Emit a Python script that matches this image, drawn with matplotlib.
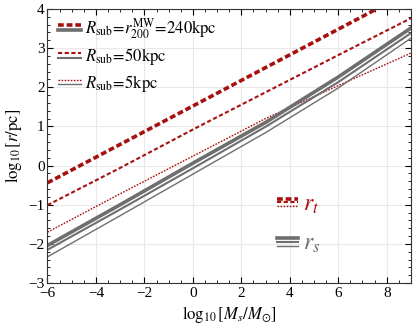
import matplotlib
matplotlib.use("Agg")
import matplotlib.pyplot as plt
from matplotlib.legend_handler import HandlerBase
from matplotlib.lines import Line2D
from matplotlib.ticker import MultipleLocator

plt.rcParams['font.family'] = ['Liberation Serif', 'DejaVu Serif']
plt.rcParams['mathtext.fontset'] = 'stix'

# ---- data ----
x_pts = [-6, -3, 0, 3, 6, 9]
rt_240 = [-0.44, 0.54, 1.52, 2.50, 3.48, 4.46]
rt_50 = [-1.01, -0.06, 0.92, 1.87, 2.82, 3.76]
rt_5 = [-1.70, -0.72, 0.24, 1.20, 2.04, 2.87]
rs_240 = [-2.04, -1.00, 0.06, 1.10, 2.26, 3.51]
rs_50 = [-2.15, -1.12, -0.07, 0.99, 2.13, 3.38]
rs_5 = [-2.33, -1.28, -0.22, 0.84, 1.98, 3.25]
labels = [r'$R_{\rm sub}\!=\!r_{200}^{\rm MW}\!=\!240{\rm kpc}$',
          r'$R_{\rm sub}\!=\!50{\rm kpc}$',
          r'$R_{\rm sub}\!=\!5{\rm kpc}$']

RED = '#A81010'
GRAY = '#6E6E6E'
styles = [dict(lw=2.6, ls=(0, (1.6, 0.8))),
          dict(lw=1.5, ls=(0, (2.0, 1.2))),
          dict(lw=1.0, ls=(0, (1.2, 1.0)))]
gstyles = [2.6, 1.5, 1.0]

fig = plt.figure(figsize=(4.13, 3.28), dpi=100)
ax = fig.add_axes([0.115, 0.137, 0.88, 0.836])

for y, st in zip([rt_240, rt_50, rt_5], styles):
    ax.plot(x_pts, y, color=RED, **st)
for y, lw in zip([rs_240, rs_50, rs_5], gstyles):
    ax.plot(x_pts, y, color=GRAY, lw=lw, ls='-')

ax.set_xlim(-6, 9)
ax.set_ylim(-3, 4)
ax.xaxis.set_major_locator(MultipleLocator(2))
ax.xaxis.set_minor_locator(MultipleLocator(0.5))
ax.yaxis.set_major_locator(MultipleLocator(1))
ax.yaxis.set_minor_locator(MultipleLocator(0.2))
ax.tick_params(which='both', direction='in', top=True, right=True, labelsize=11)
ax.tick_params(axis='x', pad=3)
ax.tick_params(axis='y', pad=2)
ax.tick_params(which='major', length=4, width=0.8)
ax.tick_params(which='minor', length=2, width=0.6)
ax.grid(True, which='major', color='#E8E8E8', lw=0.8)
ax.set_axisbelow(True)
for s in ax.spines.values():
    s.set_linewidth(0.8)
    s.set_color('#333333')

ax.set_xlabel(r'$\log_{10}[M_s/M_{\odot}]$', fontsize=12, labelpad=3)
ax.set_ylabel(r'$\log_{10}[r/{\rm pc}]$', fontsize=12, labelpad=3)


class StackHandler(HandlerBase):
    def __init__(self, specs, spacing):
        super().__init__()
        self.specs = specs
        self.spacing = spacing

    def create_artists(self, legend, orig_handle, xdescent, ydescent,
                       width, height, fontsize, trans):
        arts = []
        n = len(self.specs)
        y0 = height / 2 + self.spacing * (n - 1) / 2
        for i, sp in enumerate(self.specs):
            yy = y0 - i * self.spacing
            l = Line2D([-xdescent, -xdescent + width], [yy, yy], transform=trans, **sp)
            arts.append(l)
        return arts


h1 = [Line2D([], []) for _ in range(3)]
handler_map = {}
for h, st, lw in zip(h1, styles, gstyles):
    handler_map[h] = StackHandler([dict(color=RED, **st), dict(color=GRAY, lw=lw, ls='-')], 3.5)
leg = ax.legend(h1, labels, handler_map=handler_map, loc='upper left',
                bbox_to_anchor=(0.013, 0.995), frameon=False, fontsize=12,
                handlelength=1.35, handletextpad=0.25, labelspacing=0.33,
                borderaxespad=0.0, borderpad=0.35)
ax.add_artist(leg)

h2 = [Line2D([], []), Line2D([], [])]
hm2 = {h2[0]: StackHandler([dict(color=RED, **st) for st in styles], 2.6),
       h2[1]: StackHandler([dict(color=GRAY, lw=lw, ls='-') for lw in gstyles], 3.0)}
leg2 = ax.legend(h2, [r'$r_t$', r'$r_s$'], handler_map=hm2, loc='upper left',
                 bbox_to_anchor=(0.632, 0.325), frameon=False, fontsize=17,
                 handlelength=0.9, handletextpad=0.2, labelspacing=0.75,
                 borderpad=0.0, borderaxespad=0.0)
leg2.get_texts()[0].set_color(RED)
leg2.get_texts()[1].set_color(GRAY)

fig.savefig('out.png', dpi=100)
